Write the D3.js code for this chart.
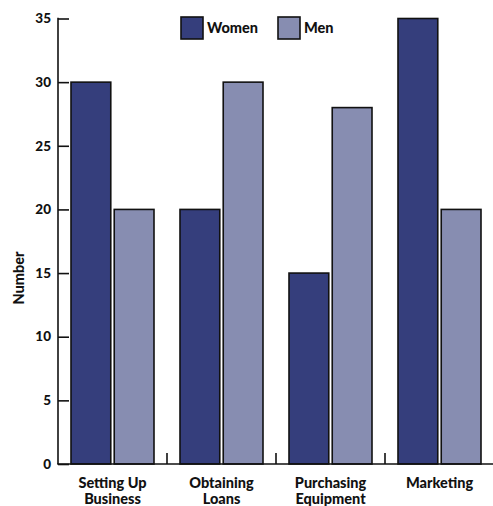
<!DOCTYPE html>
<html><head><meta charset="utf-8">
<script src="https://cdn.jsdelivr.net/npm/d3@7"></script>
<style>
body{margin:0;background:#fff;}
text{font-family:"Lato","DejaVu Sans",sans-serif;font-weight:900;fill:#111;}
</style></head>
<body>
<svg id="chart" width="493" height="506"></svg>
<script>
const categories = [["Setting Up","Business"],["Obtaining","Loans"],["Purchasing","Equipment"],["Marketing"]];
const seriesNames = ["Women","Men"];
const women = [30,20,15,35];
const men = [20,30,28,20];
const yTicks = [0,5,10,15,20,25,30,35];
const colors = ["#353e7c","#878db1"];

const svg = d3.select("#chart");
const x0 = d3.scaleBand().domain(d3.range(categories.length)).range([58,494]).padding(0);
const x1 = d3.scaleBand().domain(seriesNames).range([13,96]).paddingInner(0.08);
const y = d3.scaleLinear().domain([0,35]).range([464,18.5]);
const values = [women, men];

// bars
categories.forEach((c,i)=>{
  seriesNames.forEach((s,j)=>{
    svg.append("rect")
      .attr("x", x0(i)+x1(s))
      .attr("y", y(values[j][i]))
      .attr("width", x1.bandwidth())
      .attr("height", y(0)-y(values[j][i]))
      .attr("fill", colors[j])
      .attr("stroke","#111")
      .attr("stroke-width",1.6);
  });
});

// y axis
const yAxis = svg.append("g").attr("transform","translate(58,0)")
  .call(d3.axisRight(y).tickValues(yTicks).tickSize(11).tickFormat(""));
yAxis.select(".domain").remove();
yAxis.selectAll("line").attr("stroke","#111").attr("stroke-width",1.6);
svg.append("line").attr("x1",58).attr("x2",58).attr("y1",y(35)-0.8).attr("y2",y(0))
  .attr("stroke","#111").attr("stroke-width",1.6);
svg.selectAll(".ylab").data(yTicks).enter().append("text")
  .attr("x",51).attr("y",d=>y(d)).attr("dy","0.35em")
  .attr("text-anchor","end").attr("font-size",13.5).text(d=>d);

// x axis
svg.append("line").attr("x1",57.2).attr("x2",493).attr("y1",y(0)).attr("y2",y(0))
  .attr("stroke","#111").attr("stroke-width",1.6);
d3.range(1,categories.length).forEach(i=>{
  svg.append("line").attr("x1",x0(i)).attr("x2",x0(i)).attr("y1",y(0)).attr("y2",y(0)-11)
    .attr("stroke","#111").attr("stroke-width",1.6);
});
categories.forEach((c,i)=>{
  const t = svg.append("text").attr("text-anchor","middle").attr("font-size",14.5)
    .attr("x", x0(i)+x0.bandwidth()/2).attr("y",488);
  c.forEach((line,k)=>{
    t.append("tspan").attr("x", x0(i)+x0.bandwidth()/2).attr("dy", k===0?0:16).text(line);
  });
});

// y label
svg.append("text").attr("transform","translate(24,278) rotate(-90)")
  .attr("text-anchor","middle").attr("font-size",14.5).text("Number");

// legend
const legX = [181,278];
seriesNames.forEach((s,j)=>{
  svg.append("rect").attr("x",legX[j]).attr("y",17).attr("width",22).attr("height",22)
    .attr("fill",colors[j]).attr("stroke","#111").attr("stroke-width",1.6);
  svg.append("text").attr("x",legX[j]+26).attr("y",28).attr("dy","0.35em")
    .attr("font-size",14.5).text(s);
});
</script>
</body></html>
